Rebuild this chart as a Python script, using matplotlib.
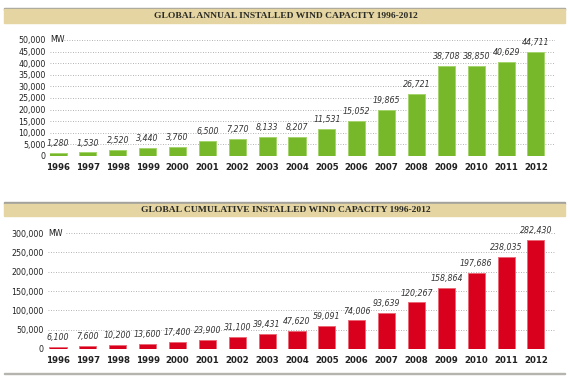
import matplotlib
matplotlib.use('Agg')
import numpy as np
from matplotlib import pyplot as plt
from matplotlib.patches import Rectangle

years = ['1996', '1997', '1998', '1999', '2000', '2001', '2002', '2003', '2004',
         '2005', '2006', '2007', '2008', '2009', '2010', '2011', '2012']
annual = [1280, 1530, 2520, 3440, 3760, 6500, 7270, 8133, 8207,
          11531, 15052, 19865, 26721, 38708, 38850, 40629, 44711]
cumulative = [6100, 7600, 10200, 13600, 17400, 23900, 31100, 39431, 47620,
              59091, 74006, 93639, 120267, 158864, 197686, 238035, 282430]
annual_ticks = [0, 5000, 10000, 15000, 20000, 25000, 30000, 35000, 40000, 45000, 50000]
cumul_ticks = [0, 50000, 100000, 150000, 200000, 250000, 300000]

title_top = 'GLOBAL ANNUAL INSTALLED WIND CAPACITY 1996-2012'
title_bot = 'GLOBAL CUMULATIVE INSTALLED WIND CAPACITY 1996-2012'

narrow = ['Liberation Sans Narrow', 'DejaVu Sans']
W, H = 570, 380

fig = plt.figure(figsize=(5.7, 3.8), dpi=100)
fig.patch.set_facecolor('white')


def fx(px):
    return px / W


def fy(py):
    return 1 - py / H


def banner(top, bottom, text):
    # gray rule on top, beige band below
    fig.patches.append(Rectangle((fx(4), fy(top + 1.5)), fx(561), 1.5 / H,
                                 transform=fig.transFigure, color='#a3a29c', zorder=1))
    fig.patches.append(Rectangle((fx(4), fy(bottom)), fx(561), (bottom - top - 1.5) / H,
                                 transform=fig.transFigure, color='#e4d5a2', zorder=1))
    fig.text(fx(286), fy((top + bottom) / 2 + 1), text, ha='center', va='center',
             family=['Liberation Serif', 'DejaVu Serif'], weight='bold', fontsize=6.8,
             color='#2b2b25')


def panel(rect, values, ticks, color, edge, xleft, xright, mw_gap):
    ax = fig.add_axes(rect)
    x = np.arange(len(values))
    ax.bar(x, values, width=0.57, color=color, edgecolor=edge, linewidth=0.7, zorder=3)
    ymax = ticks[-1]
    ax.set_xlim(xleft, xright)
    ax.set_ylim(0, ymax)
    for s in ax.spines.values():
        s.set_visible(False)
    ax.set_yticks(ticks)
    ax.set_yticklabels([f'{t:,}' for t in ticks], family=narrow, fontsize=5.7, color='#222222')
    ax.set_xticks(x)
    ax.set_xticklabels(years, family=narrow, fontsize=6.2, weight='bold', color='#222222')
    ax.tick_params(length=0, pad=3)
    ax.tick_params(axis='x', pad=5)
    for t in ticks:
        xmin = mw_gap if t == ymax else 0.0
        ax.axhline(t, xmin=xmin, color='#9a9a9a', lw=0.6, ls=(0, (1, 2)), zorder=1)
    ax.text(0.0, ymax, 'MW', transform=ax.get_yaxis_transform(), ha='left', va='center',
            family=narrow, fontsize=5.7, color='#222222', zorder=4)
    for xi, v in zip(x, values):
        ax.annotate(f'{v:,}', (xi, v), xytext=(0, 3.5), textcoords='offset points',
                    ha='center', va='bottom', family=narrow, style='italic',
                    fontsize=5.7, color='#333333', zorder=4)
    return ax


banner(8, 23, title_top)
banner(202, 216, title_bot)

step = 29.85
panel([fx(50), fy(156), fx(505), (156 - 40) / H], annual, annual_ticks,
      '#76b82a', '#a5d36c', (50 - 58) / step, 16 + (555 - 536) / step, 0.028)
panel([fx(48), fy(349), fx(507), (349 - 233) / H], cumulative, cumul_ticks,
      '#d9001e', '#ea6a78', (48 - 58) / step, 16 + (555 - 536) / step, 0.036)

# bottom rule
fig.patches.append(Rectangle((fx(4), fy(374)), fx(561), 1.5 / H,
                             transform=fig.transFigure, color='#b5b4ae', zorder=1))

plt.savefig('out.png', dpi=100)
